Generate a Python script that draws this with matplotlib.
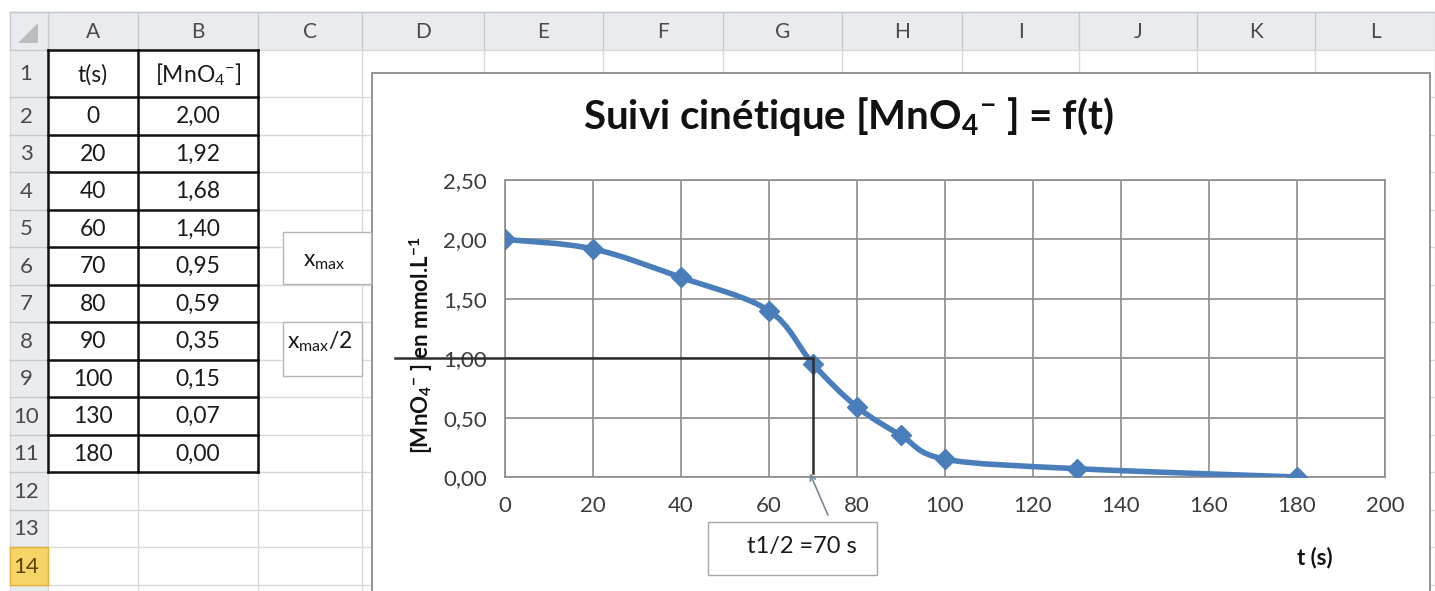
import matplotlib
matplotlib.use("Agg")
import matplotlib.pyplot as plt
import matplotlib.patches as patches
from matplotlib.path import Path
from matplotlib.ticker import MultipleLocator, FuncFormatter
import numpy as np

plt.rcParams['font.family'] = 'Lato'
plt.rcParams['mathtext.fontset'] = 'custom'
plt.rcParams['mathtext.rm'] = 'Lato'
plt.rcParams['mathtext.it'] = 'Lato:italic'
plt.rcParams['mathtext.bf'] = 'Lato:bold'

# Data (cells A2:B11)
t_s = [0, 20, 40, 60, 70, 80, 90, 100, 130, 180]
mno4 = [2.00, 1.92, 1.68, 1.40, 0.95, 0.59, 0.35, 0.15, 0.07, 0.00]
t_half = 70
half_conc = 1.00

col_letters = ["A", "B", "C", "D", "E", "F", "G", "H", "I", "J", "K", "L"]
table_headers = ["t(s)", r"[MnO$_4$$^{-}$]"]

W, H = 1435, 591
# sheet geometry (pixels)
col_edges = [10, 48, 138, 258, 362, 484, 603, 723, 842, 962, 1079, 1197, 1315, 1435]
row_edges = [12, 50] + [97 + 37.5 * k for k in range(14)]

fig = plt.figure(figsize=(W / 100, H / 100), dpi=100, facecolor='white')

# ---- spreadsheet background ----
sheet = fig.add_axes([0, 0, 1, 1])
sheet.set_xlim(0, W)
sheet.set_ylim(H, 0)
sheet.axis('off')
sheet.set_zorder(-1)

hdr_bg = '#e9ebef'
sheet.add_patch(patches.Rectangle((10, 12), W - 10, 38, fc=hdr_bg, ec='none', zorder=1))
sheet.add_patch(patches.Rectangle((10, 50), 38, H - 50, fc=hdr_bg, ec='none', zorder=1))
# active row 14 header
sheet.add_patch(patches.Rectangle((10, row_edges[14]), 38, 37.5, fc='#f7d468', ec='#e2b23a', lw=1, zorder=2))
# corner triangle
sheet.add_patch(patches.Polygon([(38, 23), (38, 43), (18, 43)], closed=True, fc='#b9bcc1', ec='none', zorder=2))

# grid lines
for x in col_edges:
    sheet.plot([x, x], [12, 50], color='#c5c9d0', lw=1, zorder=1.5)
    sheet.plot([x, x], [50, H], color='#d9d9d9', lw=1, zorder=1.5)
for y in row_edges:
    sheet.plot([10, 48], [y, y], color='#c5c9d0', lw=1, zorder=1.5)
    sheet.plot([48, W], [y, y], color='#d9d9d9', lw=1, zorder=1.5)
sheet.plot([10, W], [12, 12], color='#c5c9d0', lw=1, zorder=1.5)

# column letters / row numbers
for i, letter in enumerate(col_letters):
    xc = (col_edges[i + 1] + col_edges[i + 2]) / 2
    sheet.text(xc, 32, letter, ha='center', va='center', fontsize=15, color='#4a4a4a', zorder=3)
for r in range(1, 15):
    yc = (row_edges[r] + row_edges[r + 1]) / 2
    color = '#5b4300' if r == 14 else '#4a4a4a'
    sheet.text(26, yc + 1, str(r), ha='center', va='center', fontsize=16, color=color, zorder=3)

# data table A1:B11
xa = (col_edges[1] + col_edges[2]) / 2
xb = (col_edges[2] + col_edges[3]) / 2
for j, lab in enumerate(table_headers):
    sheet.text([xa, xb][j], (row_edges[1] + row_edges[2]) / 2 + 1, lab, ha='center', va='center',
               fontsize=16.5, color='#1a1a1a', zorder=3)
for k, (t, c) in enumerate(zip(t_s, mno4)):
    yc = (row_edges[k + 2] + row_edges[k + 3]) / 2 + 1
    sheet.text(xa, yc, str(t), ha='center', va='center', fontsize=16.5, color='#1a1a1a', zorder=3)
    sheet.text(xb, yc, f"{c:.2f}".replace('.', ','), ha='center', va='center', fontsize=16.5,
               color='#1a1a1a', zorder=3)
tbl_bottom = row_edges[len(t_s) + 2]
for x in col_edges[1:4]:
    sheet.plot([x, x], [50, tbl_bottom], color='#111111', lw=1.8, zorder=4)
for y in row_edges[1:len(t_s) + 3]:
    sheet.plot([48, 258], [y, y], color='#111111', lw=1.8, zorder=4)

# chart frame
sheet.add_patch(patches.Rectangle((372, 73), 1058, 600, fc='white', ec='#8a8a8a', lw=1.3, zorder=5))

# text boxes in column C
sheet.add_patch(patches.Rectangle((283, 232), 88, 52, fc='white', ec='#b5b5b5', lw=1, zorder=6))
sheet.text(324, 262, r"x$_{\mathrm{max}}$", ha='center', va='center', fontsize=16.5, color='#1a1a1a', zorder=7)
sheet.add_patch(patches.Rectangle((283, 322), 79, 54, fc='white', ec='#b5b5b5', lw=1, zorder=6))
sheet.text(320, 342, r"x$_{\mathrm{max}}$/2", ha='center', va='center', fontsize=16.5, color='#1a1a1a', zorder=7)

# ---- chart ----
ax = fig.add_axes([505 / W, 1 - 477 / H, 880 / W, 297 / H])
ax.set_xlim(0, 200)
ax.set_ylim(0, 2.5)
ax.xaxis.set_major_locator(MultipleLocator(20))
ax.yaxis.set_major_locator(MultipleLocator(0.5))
ax.yaxis.set_major_formatter(FuncFormatter(lambda v, p: f"{v:.2f}".replace('.', ',')))
ax.grid(True, color='#8c8c8c', lw=1.2)
ax.set_axisbelow(True)
for s in ax.spines.values():
    s.set_color('#8c8c8c')
    s.set_linewidth(1.2)
ax.tick_params(axis='both', length=0, labelsize=16, labelcolor='#3c3c3c')
ax.tick_params(axis='y', pad=13)
ax.tick_params(axis='x', pad=14)

# smoothed line (Catmull-Rom style bezier like Excel "smoothed line")
pts = np.column_stack([t_s, mno4]).astype(float)
verts = [pts[0]]
codes = [Path.MOVETO]
n = len(pts)
for i in range(n - 1):
    p0 = pts[i - 1] if i > 0 else pts[i]
    p1, p2 = pts[i], pts[i + 1]
    p3 = pts[i + 2] if i + 2 < n else pts[i + 1]
    verts += [p1 + (p2 - p0) / 6, p2 - (p3 - p1) / 6, p2]
    codes += [Path.CURVE4] * 3
ax.add_patch(patches.PathPatch(Path(verts, codes), fc='none', ec='#4a7ebb', lw=4, zorder=3,
                               capstyle='round', joinstyle='round'))
ax.plot(t_s, mno4, ls='none', marker='D', ms=10.5, color='#4a7ebb', zorder=4)

# hand-drawn half-life construction
ax.plot([-25, t_half], [half_conc, half_conc], color='#2e2e2e', lw=1.8, clip_on=False, zorder=6)
ax.plot([t_half, t_half], [half_conc, 0.03], color='#2e2e2e', lw=1.8, clip_on=False, zorder=6)
ax.annotate('', xy=(t_half - 0.7, 0.03), xycoords='data', xytext=(13, -30), textcoords='offset points',
            arrowprops=dict(arrowstyle='->', color='#7a8794', lw=1.2, shrinkA=0, shrinkB=0),
            annotation_clip=False, zorder=7)

# ---- overlay texts ----
ov = fig.add_axes([0, 0, 1, 1])
ov.set_xlim(0, W)
ov.set_ylim(H, 0)
ov.axis('off')
ov.set_zorder(5)

ov.text(848, 116, r"Suivi cinétique [MnO$_\mathbf{4}$$^\mathbf{-}$ ] = f(t)", ha='center', va='center',
        fontsize=29, fontweight='bold', color='#111111')
ov.text(421, 345, r"[MnO$_\mathbf{4}$$^\mathbf{-}$ ] en mmol.L$^\mathbf{-1}$", rotation=90, ha='center',
        va='center', fontsize=16, fontweight='bold', color='#111111')
ov.text(1315, 558, "t (s)", ha='center', va='center', fontsize=16, fontweight='bold', color='#111111')

ov.add_patch(patches.Rectangle((708, 522), 169, 53, fc='white', ec='#a8a8a8', lw=1))
ov.text(802, 546, "t1/2 =70 s", ha='center', va='center', fontsize=17, color='#1a1a1a')

fig.savefig('out.png', dpi=100, facecolor='white')
